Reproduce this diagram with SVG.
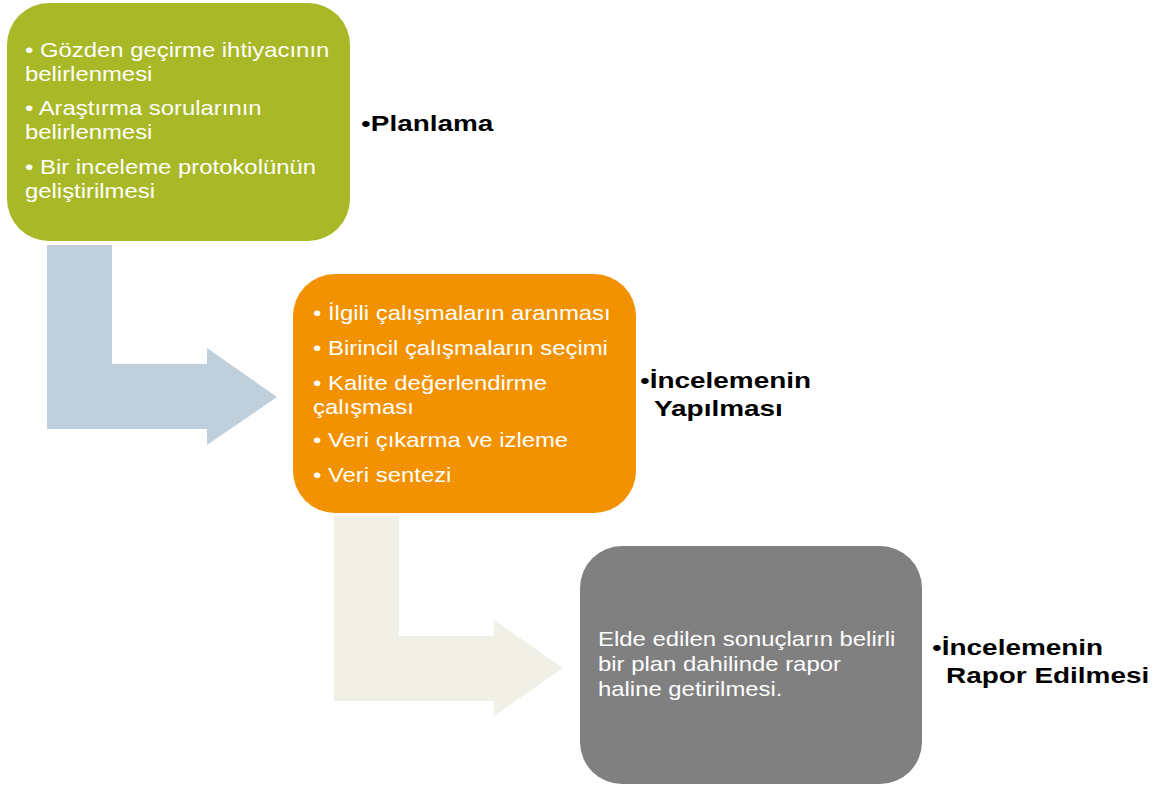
<svg xmlns="http://www.w3.org/2000/svg" width="1161" height="787" viewBox="0 0 1161 787">
<style>
.t{font-family:"Liberation Sans",Arial,sans-serif;font-size:20.5px;fill:#ffffff}
.l{font-family:"Liberation Sans",Arial,sans-serif;font-size:22px;font-weight:bold;fill:#000000}
.b{font-weight:normal}
</style>
<rect width="1161" height="787" fill="#ffffff"/>
<g id="connectors">
<path d="M47 245 H112 V364 H207 V348 L277 397 L207 445 V429 H47 Z" fill="#BFCFDC"/>
<path d="M334 516 H399 V636 H494 V620 L563 668 L494 716 V701 H334 Z" fill="#F0F0E6"/>
</g>
<g id="planlama">
<rect x="7" y="3" width="343" height="238" rx="42" fill="#A8B826"/>
<text class="t" transform="scale(1.165 1)"><tspan x="21.46" y="57">• Gözden geçirme ihtiyacının</tspan><tspan x="21.46" y="81">belirlenmesi</tspan><tspan x="21.46" y="115">• Araştırma sorularının</tspan><tspan x="21.46" y="139">belirlenmesi</tspan><tspan x="21.46" y="174">• Bir inceleme protokolünün</tspan><tspan x="21.46" y="198">geliştirilmesi</tspan></text>
<text class="l" transform="scale(1.27 1)" x="284.25" y="131"><tspan class="b">•</tspan>Planlama</text>
</g>
<g id="yapilmasi">
<rect x="293" y="274" width="343" height="239" rx="42" fill="#F39200"/>
<text class="t" transform="scale(1.165 1)"><tspan x="268.67" y="320">• İlgili çalışmaların aranması</tspan><tspan x="268.67" y="355">• Birincil çalışmaların seçimi</tspan><tspan x="268.67" y="390">• Kalite değerlendirme</tspan><tspan x="268.67" y="414">çalışması</tspan><tspan x="268.67" y="447">• Veri çıkarma ve izleme</tspan><tspan x="268.67" y="482">• Veri sentezi</tspan></text>
<text class="l" transform="scale(1.27 1)"><tspan x="503.9" y="388"><tspan class="b">•</tspan>İncelemenin</tspan><tspan x="514.96" y="416">Yapılması</tspan></text>
</g>
<g id="rapor">
<rect x="580" y="546" width="342" height="238" rx="42" fill="#808080"/>
<text class="t" transform="scale(1.165 1)"><tspan x="513.3" y="646">Elde edilen sonuçların belirli</tspan><tspan x="513.3" y="671">bir plan dahilinde rapor</tspan><tspan x="513.3" y="696">haline getirilmesi.</tspan></text>
<text class="l" transform="scale(1.27 1)"><tspan x="733.86" y="655"><tspan class="b">•</tspan>İncelemenin</tspan><tspan x="744.88" y="683">Rapor Edilmesi</tspan></text>
</g>
</svg>
